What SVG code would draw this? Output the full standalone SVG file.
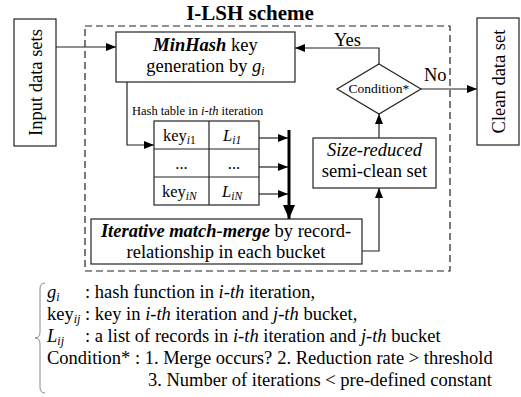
<svg xmlns="http://www.w3.org/2000/svg" width="521" height="397" viewBox="0 0 521 397">
  <style>
    text { font-family: "Liberation Serif", "Times New Roman", serif; fill: #000; }
    .box { fill: #fff; stroke: #222; stroke-width: 1.2; }
    .ln { fill: none; stroke: #222; stroke-width: 1.2; }
    .c { text-anchor: middle; }
    .b { font-weight: bold; }
    .i { font-style: italic; }
    .m { font-size: 18.5px; }
    .tb { font-size: 16.5px; }
    .sub { font-size: 11.5px; }
    .lsub { font-size: 12px; }
  </style>
  <defs>
    <marker id="ah" viewBox="0 0 10 8" refX="10" refY="4" markerWidth="10" markerHeight="8" markerUnits="userSpaceOnUse" orient="auto">
      <path d="M0,0 L10,4 L0,8 Z" fill="#000"/>
    </marker>
    <marker id="ahb" viewBox="0 0 14 12" refX="14" refY="6" markerWidth="14" markerHeight="12" markerUnits="userSpaceOnUse" orient="auto">
      <path d="M0,0 L14,6 L0,12 Z" fill="#000"/>
    </marker>
  </defs>

  <!-- title and dashed scheme boundary -->
  <text class="c b" x="250" y="20" font-size="21">I-LSH scheme</text>
  <rect x="85" y="26" width="365" height="245" fill="none" stroke="#222" stroke-width="1.2" stroke-dasharray="7,4"/>

  <g id="connectors">
    <line class="ln" x1="56" y1="47" x2="116" y2="47" marker-end="url(#ah)"/>
    <polyline class="ln" points="127,82 127,145 154,145" marker-end="url(#ah)"/>
    <line class="ln" x1="259" y1="138" x2="288" y2="138" marker-end="url(#ah)"/>
    <line class="ln" x1="259" y1="167" x2="288" y2="167" marker-end="url(#ah)"/>
    <line class="ln" x1="259" y1="194" x2="288" y2="194" marker-end="url(#ah)"/>
    <line x1="289" y1="130" x2="289" y2="219" stroke="#000" stroke-width="3" marker-end="url(#ahb)"/>
    <polyline class="ln" points="362,251 379,251 379,188" marker-end="url(#ah)"/>
    <line class="ln" x1="379" y1="138" x2="379" y2="114" marker-end="url(#ah)"/>
    <polyline class="ln" points="379,64 379,48 295,48" marker-end="url(#ah)"/>
    <line class="ln" x1="421" y1="89" x2="477" y2="89" marker-end="url(#ah)"/>
    <text class="m" x="334" y="46">Yes</text>
    <text class="m" x="424" y="81">No</text>
  </g>

  <g id="input">
    <rect class="box" x="14" y="19" width="42" height="127"/>
    <text class="c m" transform="translate(41.5,82.5) rotate(-90)">Input data sets</text>
  </g>

  <g id="clean">
    <rect class="box" x="477" y="18" width="42" height="127"/>
    <text class="c m" transform="translate(504.5,81.5) rotate(-90)">Clean data set</text>
  </g>

  <g id="minhash">
    <rect class="box" x="116" y="32" width="179" height="50"/>
    <text class="c m" x="205.5" y="51"><tspan class="b i">MinHash</tspan> key</text>
    <text class="c m" x="205.5" y="72">generation by <tspan class="i">g</tspan><tspan class="i lsub" dy="3">i</tspan></text>
  </g>

  <g id="hashtable">
    <text x="132" y="115" font-size="12.5">Hash table in <tspan class="i">i-th</tspan> iteration</text>
    <rect class="box" x="154" y="121" width="105" height="84"/>
    <line class="ln" x1="154" y1="149" x2="259" y2="149"/>
    <line class="ln" x1="154" y1="177" x2="259" y2="177"/>
    <line class="ln" x1="209" y1="121" x2="209" y2="205"/>
    <text class="tb" x="163" y="141">key<tspan class="i sub" dy="3">i</tspan><tspan class="sub">1</tspan></text>
    <text class="tb i" x="223" y="141">L<tspan class="sub" dy="3">i1</tspan></text>
    <text class="tb c" x="181.5" y="169">...</text>
    <text class="tb c" x="234" y="169">...</text>
    <text class="tb" x="162" y="197">key<tspan class="i sub" dy="3">iN</tspan></text>
    <text class="tb i" x="222" y="197">L<tspan class="sub" dy="3">iN</tspan></text>
  </g>

  <g id="matchmerge">
    <rect class="box" x="91" y="219" width="271" height="45"/>
    <text class="c m" x="226" y="237"><tspan class="b i">Iterative match-merge</tspan> by record-</text>
    <text class="c m" x="226" y="258">relationship in each bucket</text>
  </g>

  <g id="semiclean">
    <rect class="box" x="313" y="138" width="123" height="50"/>
    <text class="c m i" x="374.5" y="156">Size-reduced</text>
    <text class="c m" x="374.5" y="177">semi-clean set</text>
  </g>

  <g id="condition">
    <polygon class="box" points="379,64 421,89 379,114 337,89"/>
    <text class="c" x="379" y="93" font-size="13.5">Condition*</text>
  </g>

  <g id="legend">
    <path d="M45,283 Q40,283 40,289 L40,332 Q40,338 35,338 Q40,338 40,344 L40,387 Q40,393 45,393" fill="none" stroke="#888" stroke-width="1"/>
    <text class="m i" x="47" y="298">g<tspan class="lsub" dy="3">i</tspan></text>
    <text class="m" x="85" y="298">: hash function in <tspan class="i">i-th</tspan> iteration,</text>
    <text class="m" x="47" y="320">key<tspan class="i lsub" dy="3">ij</tspan></text>
    <text class="m" x="85" y="320">: key in <tspan class="i">i-th</tspan> iteration and <tspan class="i">j-th</tspan> bucket,</text>
    <text class="m i" x="47" y="342">L<tspan class="lsub" dy="3">ij</tspan></text>
    <text class="m" x="85" y="342">: a list of records in <tspan class="i">i-th</tspan> iteration and <tspan class="i">j-th</tspan> bucket</text>
    <text class="m" x="47" y="364">Condition* : 1. Merge occurs?<tspan dx="5">2. Reduction rate &gt; threshold</tspan></text>
    <text class="m" x="148" y="386">3. Number of iterations &lt; pre-defined constant</text>
  </g>
</svg>
